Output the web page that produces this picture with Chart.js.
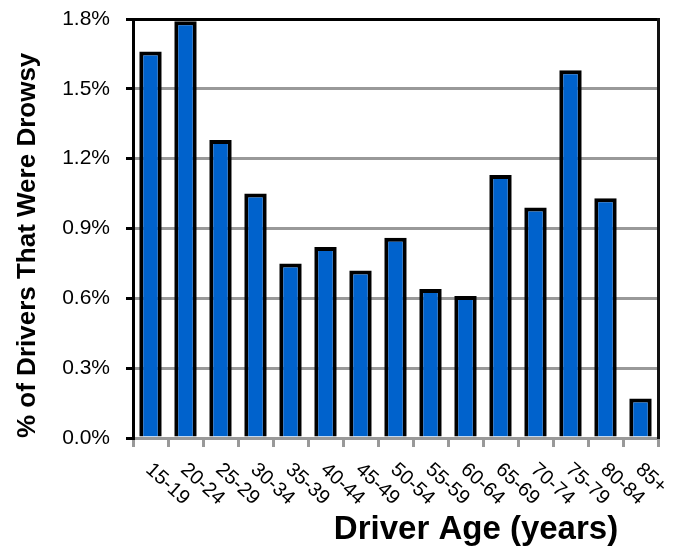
<!DOCTYPE html>
<html>
<head>
<meta charset="utf-8">
<script src="https://cdn.jsdelivr.net/npm/chart.js@4/dist/chart.umd.min.js"></script>
<style>
  html, body { margin: 0; padding: 0; background: #fff; }
  #wrap { width: 675px; height: 548px; }
</style>
</head>
<body>
<div id="wrap"><canvas id="drowsyChart"></canvas></div>
<script>
// Age groups and share of drivers that were drowsy (%)
const ageGroups = ["15-19", "20-24", "25-29", "30-34", "35-39", "40-44", "45-49",
                   "50-54", "55-59", "60-64", "65-69", "70-74", "75-79", "80-84", "85+"];
const drowsyPct = [1.66, 1.79, 1.28, 1.05, 0.75, 0.82, 0.72,
                   0.86, 0.64, 0.61, 1.13, 0.99, 1.58, 1.03, 0.17];
const yTicks = [0, 0.3, 0.6, 0.9, 1.2, 1.5, 1.8];

const FONT = "'Liberation Sans', Arial, sans-serif";
const BAR_BLUE = "#0062cc";
const GRID_GRAY = "#999999";

// ===========================
// Rotated category labels + x title
// ===========================
const ageLabels = {
  id: "ageLabels",
  afterDraw(chart) {
    const ctx = chart.ctx;
    const xs = chart.scales.x;
    const area = chart.chartArea;

    ctx.save();
    ctx.fillStyle = "#000";
    ctx.font = "20px " + FONT;
    ctx.textAlign = "left";
    ctx.textBaseline = "middle";
    ageGroups.forEach((lab, i) => {
      const x = xs.getPixelForValue(i) - 2;
      ctx.save();
      ctx.translate(x, area.bottom + 29);
      ctx.rotate(42 * Math.PI / 180);
      ctx.fillText(lab, 0, 0);
      ctx.restore();
    });

    ctx.font = "bold 33px " + FONT;
    ctx.textAlign = "center";
    ctx.textBaseline = "alphabetic";
    ctx.fillText("Driver Age (years)", 476, 539);
    ctx.restore();
  }
};

const ctx = document.getElementById("drowsyChart").getContext("2d");
const drowsyChart = new Chart(ctx, {
  type: "bar",
  data: {
    labels: ageGroups,
    datasets: [{
      label: "Drowsy",
      data: drowsyPct,
      backgroundColor: BAR_BLUE,
      borderColor: "#000",
      borderWidth: 4,
      borderSkipped: "bottom",
      categoryPercentage: 1.0,
      barPercentage: 0.64
    }]
  },
  options: {
    responsive: true,
    maintainAspectRatio: false,
    animation: false,
    layout: { padding: { top: 19, left: 0, right: 0, bottom: 0 } },
    plugins: { legend: { display: false }, tooltip: { enabled: false } },
    scales: {
      x: {
        offset: true,
        afterFit: s => { s.height = 110; s.paddingLeft = 0; s.paddingRight = 0; },
        ticks: { display: false },
        grid: {
          offset: true,
          drawOnChartArea: false,
          drawTicks: true,
          tickLength: 9,
          color: GRID_GRAY,
          lineWidth: 3
        },
        border: { color: GRID_GRAY, width: 3 }
      },
      y: {
        min: 0,
        max: 1.8,
        afterFit: s => { s.width = 133; s.paddingTop = 0; s.paddingBottom = 0; },
        afterBuildTicks: s => { s.ticks = yTicks.map(v => ({ value: v })); },
        ticks: {
          padding: 16,
          color: "#000",
          font: { family: FONT, size: 21 },
          callback: v => v.toFixed(1) + "%"
        },
        grid: {
          color: c => (c.index === yTicks.length - 1 ? "#000" : GRID_GRAY),
          tickColor: "#000",
          lineWidth: 3,
          tickLength: 7
        },
        border: { color: "#000", width: 3 },
        title: {
          display: true,
          text: "% of Drivers That Were Drowsy",
          align: "start",
          color: "#000",
          font: { family: FONT, size: 26, weight: "bold" },
          padding: { top: 12, bottom: 0 }
        }
      },
      yRight: {
        position: "right",
        display: true,
        afterFit: s => { s.width = 17; s.paddingTop = 0; s.paddingBottom = 0; },
        ticks: { display: false },
        grid: { drawOnChartArea: false, drawTicks: false },
        border: { color: "#111", width: 3 }
      }
    }
  },
  plugins: [ageLabels]
});
</script>
</body>
</html>
